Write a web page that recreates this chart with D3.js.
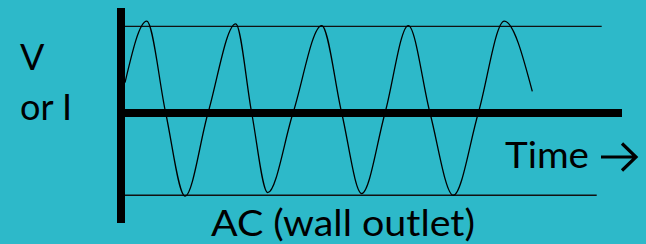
<!DOCTYPE html>
<html>
<head>
<meta charset="utf-8">
<script src="https://cdn.jsdelivr.net/npm/d3@7"></script>
<style>
  html, body { margin: 0; padding: 0; background: #2db9c9; }
  text { font-family: "Lato", "Liberation Sans", sans-serif; fill: #000; }
</style>
</head>
<body>
<div id="chart"></div>
<script>
// wave readings: time (px from the V axis) and value (+1 = top line)
var waveTime = [4, 25.7, 44.7, 64, 87, 114.7, 130.7, 146.7, 172, 200.7, 220.7, 240.7, 264, 287.3, 309, 332.3, 357.3, 383.3, 411.3];
var waveValue = [0.35, 1.06, 0, -0.96, 0, 1.03, 0, -0.92, 0, 1.01, 0, -0.93, 0, 1.01, 0, -0.95, 0, 1.06, 0.25];

// thin reference lines (level, where they stop)
var refLevels = [1, -0.95];
var refEnds = [480.7, 475.7];

var yLabels = ["V", "or I"];
var xLabel = "Time";
var title = "AC (wall outlet)";

var svgWidth = 646;
var svgHeight = 244;

var svg = d3.select("#chart")
  .append("svg")
  .attr("width", svgWidth)
  .attr("height", svgHeight);

// scales (0 sits on the thick axis)
var xScale = d3.scaleLinear()
  .domain([0, 501])
  .range([121, 622]);

var yScale = d3.scaleLinear()
  .domain([0, 1])
  .range([113, 26.4]);

// reference lines
svg.selectAll(".ref")
  .data(refLevels)
  .enter()
  .append("line")
  .attr("class", "ref")
  .attr("x1", xScale(4))
  .attr("x2", (d, i) => xScale(refEnds[i]))
  .attr("y1", d => yScale(d))
  .attr("y2", d => yScale(d))
  .attr("stroke", "#111")
  .attr("stroke-width", 1.4);

// the wave
var line = d3.line()
  .x((d, i) => xScale(waveTime[i]))
  .y(d => yScale(d))
  .curve(d3.curveMonotoneX);

svg.append("path")
  .datum(waveValue)
  .attr("d", line)
  .attr("fill", "none")
  .attr("stroke", "#000")
  .attr("stroke-width", 1.3);

// thick axes
svg.append("line")
  .attr("x1", xScale(0))
  .attr("x2", xScale(501))
  .attr("y1", yScale(0))
  .attr("y2", yScale(0))
  .attr("stroke", "#000")
  .attr("stroke-width", 8);

svg.append("line")
  .attr("x1", xScale(0))
  .attr("x2", xScale(0))
  .attr("y1", 8)
  .attr("y2", 223)
  .attr("stroke", "#000")
  .attr("stroke-width", 8);

// labels
svg.selectAll(".ylab")
  .data(yLabels)
  .enter()
  .append("text")
  .attr("class", "ylab")
  .attr("x", 20)
  .attr("y", (d, i) => 70 + i * 50)
  .attr("font-size", 36)
  .text(d => d);

svg.append("text")
  .attr("x", 505)
  .attr("y", 168)
  .attr("font-size", 36)
  .attr("textLength", 84)
  .attr("lengthAdjust", "spacingAndGlyphs")
  .text(xLabel);

// arrow after "Time"
svg.append("path")
  .attr("d", "M601,157 H635 M622,143.5 L636,157 L622,170.5")
  .attr("fill", "none")
  .attr("stroke", "#000")
  .attr("stroke-width", 3.2);

svg.append("text")
  .attr("x", 211)
  .attr("y", 236)
  .attr("font-size", 36)
  .attr("textLength", 264)
  .attr("lengthAdjust", "spacingAndGlyphs")
  .text(title);
</script>
</body>
</html>
